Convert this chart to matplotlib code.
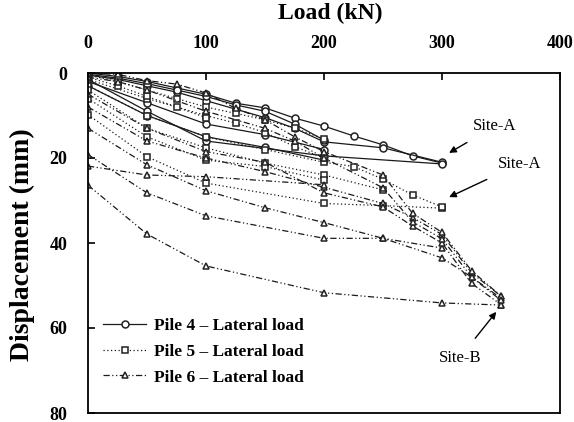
import matplotlib
matplotlib.use("Agg")
import matplotlib.pyplot as plt

plt.rcParams['font.family'] = ['Liberation Serif', 'DejaVu Serif']

# ---------------- data ----------------
# Pile 4 - lateral load (solid, circles)
p4_loads = [
    [0, 25, 50, 75, 100, 125, 150, 175, 200, 225, 250, 275, 300],
    [0, 25, 50, 75, 100, 125, 150, 175, 200, 250, 300],
    [0, 50, 100, 200, 300],
    [0, 25, 50, 75, 100, 125, 150, 175, 200],
    [0, 50, 100, 150, 200],
    [0, 50, 100, 150, 200],
]
p4_disp = [
    [0, 0.8, 2.0, 3.5, 5.0, 7.1, 8.2, 10.6, 12.5, 14.8, 16.9, 19.5, 21.2],
    [0.5, 1.5, 3.0, 4.5, 6.5, 8.5, 10.5, 13.0, 16.2, 17.6, 21.0],
    [1.5, 9.0, 16.0, 19.5, 21.4],
    [0.3, 1.2, 2.5, 4.0, 5.5, 7.5, 9.0, 12.0, 15.8],
    [2.0, 7.0, 12.0, 14.5, 18.0],
    [3.0, 10.0, 15.0, 17.5, 20.5],
]

# Pile 5 - lateral load (dotted, squares)
p5_loads = [
    [0, 50, 100, 200, 250, 300],
    [0, 50, 100, 150, 200, 225, 250, 275, 300],
    [0, 50, 100, 150, 200, 250],
    [0, 50, 100, 125, 150, 175, 200],
    [0, 25, 50, 75, 100, 125, 150, 175, 200],
    [0, 50, 100, 150, 200],
    [0, 25, 50, 75, 100],
]
p5_disp = [
    [9.8, 19.7, 25.9, 30.7, 31.2, 31.8],
    [3.0, 10.0, 15.0, 18.0, 21.0, 22.0, 25.0, 28.7, 31.5],
    [4.0, 13.0, 17.6, 21.2, 24.0, 27.5],
    [1.5, 6.0, 10.0, 11.8, 14.0, 17.3, 20.0],
    [0.5, 2.0, 4.0, 6.0, 8.0, 9.5, 11.0, 13.0, 15.5],
    [6.0, 15.0, 20.5, 22.0, 25.2],
    [1.0, 3.0, 5.5, 8.0, 10.5],
]

# Pile 6 - lateral load (dash-dot, triangles)
p6_loads = [
    [0, 50, 100, 200, 300, 350],
    [0, 50, 100, 200, 250, 300],
    [0, 50, 100, 150, 200, 250, 300, 325, 350],
    [0, 50, 100, 150, 200, 250, 275, 300, 325, 350],
    [0, 50, 100, 150, 200, 250, 275, 300, 325, 350],
    [0, 25, 50, 75, 100, 125, 150, 175, 200, 250, 275, 300, 325, 350],
    [0, 25, 50, 100, 150, 175, 200, 250, 275, 300, 325, 350],
    [0, 50, 100, 200],
]
p6_disp = [
    [26.4, 37.9, 45.4, 51.7, 54.1, 54.6],
    [19.2, 28.2, 33.6, 38.9, 38.9, 41.2],
    [13.0, 21.6, 27.7, 31.7, 35.2, 38.9, 43.5, 48.0, 53.0],
    [8.0, 16.0, 20.0, 23.2, 26.9, 30.7, 34.0, 38.0, 47.0, 52.5],
    [5.0, 13.0, 18.5, 21.0, 28.2, 31.5, 36.0, 40.0, 49.5, 54.5],
    [0, 0.3, 1.8, 2.6, 4.7, 8.3, 11.0, 15.0, 18.5, 24.0, 33.0, 37.5, 46.5, 52.5],
    [1.0, 2.0, 4.0, 9.0, 13.0, 16.0, 20.0, 27.0, 35.0, 39.0, 48.0, 53.5],
    [21.9, 24.0, 24.4, 26.3],
]

legend_labels = ["Pile 4 \u2013 Lateral load", "Pile 5 \u2013 Lateral load", "Pile 6 \u2013 Lateral load"]
x_ticks = [0, 100, 200, 300, 400]
y_ticks = [0, 20, 40, 60, 80]

# ---------------- figure ----------------
W, H = 574, 422
fig = plt.figure(figsize=(W / 100, H / 100), dpi=100)
L, R, T, B = 88, 560, 73, 413
ax = fig.add_axes([L / W, 1 - B / H, (R - L) / W, (B - T) / H])

styles = [
    dict(ls='-', marker='o'),
    dict(ls=(0, (1, 2)), marker='s'),
    dict(ls=(0, (5, 2, 1, 2, 1, 2)), marker='^'),
]
groups = [(p4_loads, p4_disp), (p5_loads, p5_disp), (p6_loads, p6_disp)]

handles = []
for gi, ((lx, ly), st) in enumerate(zip(groups, styles)):
    for ci, (xs, ys) in enumerate(zip(lx, ly)):
        ln, = ax.plot(xs, ys, color='#1a1a1a', lw=0.9, ls=st['ls'],
                      marker=st['marker'], markersize=5,
                      markerfacecolor='white', markeredgecolor='#222222',
                      markeredgewidth=1.1,
                      label=legend_labels[gi] if ci == 0 else None)
        if ci == 0:
            handles.append(ln)

ax.set_xlim(0, 400)
ax.set_ylim(80, 0)
ax.set_xticks(x_ticks)
ax.set_yticks(y_ticks)
ax.xaxis.tick_top()
ax.tick_params(axis='both', direction='in', length=5, width=1.2, pad=15,
               labelsize=13)
for lab in ax.get_xticklabels() + ax.get_yticklabels():
    lab.set_fontweight('bold')
for sp in ax.spines.values():
    sp.set_linewidth(1.3)

fig.text(330 / W, 1 - 13 / H, "Load (kN)", ha='center', va='center',
         fontsize=17, fontweight='bold')
fig.text(22 / W, 1 - 245 / H, "Displacement (mm)", ha='center', va='center',
         rotation=90, fontsize=20, fontweight='bold')

leg = ax.legend(handles=handles, loc='upper left',
                bbox_to_anchor=((103 - L) / (R - L), (B - 318) / (B - T)),
                frameon=False, borderpad=0, borderaxespad=0,
                handlelength=2.5, handletextpad=0.45, labelspacing=0.55,
                prop=dict(size=12.5, weight='bold'))

arrow = dict(arrowstyle='-|>', color='black', lw=1.0, mutation_scale=10)
ax.annotate("Site-A", xy=(306, 18.8), xytext=(345, 12.5), fontsize=12,
            ha='center', va='center', arrowprops=dict(arrow, shrinkA=8, shrinkB=0))
ax.annotate("Site-A", xy=(306, 29.2), xytext=(366, 21.4), fontsize=12,
            ha='center', va='center', arrowprops=dict(arrow, shrinkA=8, shrinkB=0))
ax.annotate("Site-B", xy=(346, 56.2), xytext=(315, 67.0), fontsize=12,
            ha='center', va='center', arrowprops=dict(arrow, shrinkA=8, shrinkB=0))

fig.savefig("out.png", dpi=100)
